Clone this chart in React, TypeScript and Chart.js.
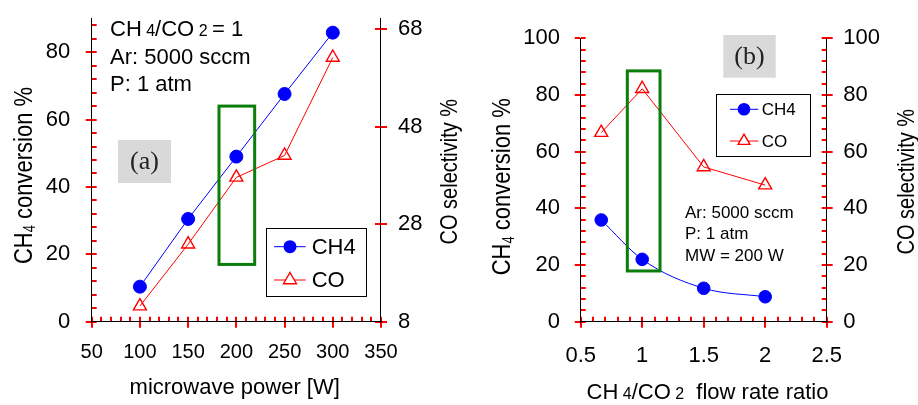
import React, { useEffect, useRef } from 'react';
import { Chart, registerables } from 'chart.js';

Chart.register(...registerables);

// ---------------- data ----------------
const powerW = [100, 150, 200, 250, 300];
const ch4ConversionA = [10.4, 30.5, 49.0, 67.6, 85.8];
const coSelectivityA = [11.2, 23.9, 37.6, 42.1, 62.2];

const flowRatio = [0.667, 1, 1.5, 2];
const ch4ConversionB = [35.9, 22.0, 11.8, 8.8];
const coSelectivityB = [66.7, 82.2, 54.6, 48.2];

const xTicksA = [50, 100, 150, 200, 250, 300, 350];
const yTicksA = [0, 20, 40, 60, 80];
const y2TicksA = [8, 28, 48, 68];
const xTicksB = [0.5, 1, 1.5, 2, 2.5];
const yTicksB = [0, 20, 40, 60, 80, 100];
const y2TicksB = [0, 20, 40, 60, 80, 100];

const highlightXA = [182, 219];
const highlightYA = [17, 64];
const highlightXB = [0.879, 1.145];
const highlightYB = [17.9, 88.5];

const seriesNames = ['CH4', 'CO'];

// ---------------- styling helpers ----------------
const SANS = "'Liberation Sans', Arial, sans-serif";
const SERIF = "'Liberation Serif', 'Times New Roman', serif";
const BLUE = '#0000ff';
const RED = '#ff0000';
const GREEN = '#0a7d0a';
const TICK_COLOR = '#ff0000';
const TICK_WIDTH = 2;

type Seg = [string, number, number?];

function richText(ctx: CanvasRenderingContext2D, segs: Seg[], x: number, y: number, align: 'left' | 'center' = 'left', rot = 0, sy = 1, family = SANS) {
  ctx.save();
  ctx.translate(x, y);
  if (rot) ctx.rotate(rot);
  if (sy !== 1) ctx.scale(1, sy);
  ctx.fillStyle = '#000';
  ctx.textAlign = 'left';
  ctx.textBaseline = 'alphabetic';
  const widths = segs.map(([t, s]) => {
    ctx.font = `${s}px ${family}`;
    return ctx.measureText(t).width;
  });
  const total = widths.reduce((a, b) => a + b, 0);
  let cx = align === 'center' ? -total / 2 : 0;
  segs.forEach(([t, s, dy], i) => {
    ctx.font = `${s}px ${family}`;
    ctx.fillText(t, cx, dy || 0);
    cx += widths[i];
  });
  ctx.restore();
}

function drawTriangle(ctx: CanvasRenderingContext2D, x: number, y: number, r: number) {
  const h = Math.sin(Math.PI / 3) * r;
  ctx.beginPath();
  ctx.moveTo(x, y - r);
  ctx.lineTo(x + h, y + r / 2);
  ctx.lineTo(x - h, y + r / 2);
  ctx.closePath();
}

type DecorCfg = {
  hx: number[];
  hy: number[];
  tag: { text: string; x0: number; y0: number; x1: number; y1: number; size: number };
  legend: { x0: number; y0: number; x1: number; y1: number; rows: number[]; lx0: number; lx1: number; mx: number; tx: number; size: number; cr: number; tr: number };
  texts: (ctx: CanvasRenderingContext2D) => void;
};

function makeDecor(cfg: DecorCfg) {
  return {
    id: 'decor',
    afterDatasetsDraw(chart: any) {
      const { ctx } = chart;
      const xs = chart.scales.x;
      const ys = chart.scales.y;
      const x0 = xs.getPixelForValue(cfg.hx[0]);
      const x1 = xs.getPixelForValue(cfg.hx[1]);
      const y0 = ys.getPixelForValue(cfg.hy[1]);
      const y1 = ys.getPixelForValue(cfg.hy[0]);
      ctx.save();
      ctx.strokeStyle = GREEN;
      ctx.lineWidth = 3;
      ctx.strokeRect(x0, y0, x1 - x0, y1 - y0);
      ctx.restore();
    },
    afterDraw(chart: any) {
      const { ctx } = chart;
      ctx.save();
      const lg = cfg.legend;
      ctx.strokeStyle = '#000';
      ctx.lineWidth = 1;
      ctx.strokeRect(Math.round(lg.x0) + 0.5, Math.round(lg.y0) + 0.5, Math.round(lg.x1 - lg.x0), Math.round(lg.y1 - lg.y0));
      chart.data.datasets.forEach((ds: any, i: number) => {
        const y = lg.rows[i];
        ctx.strokeStyle = ds.borderColor;
        ctx.lineWidth = ds.borderWidth;
        ctx.beginPath();
        ctx.moveTo(lg.lx0, y);
        ctx.lineTo(lg.lx1, y);
        ctx.stroke();
        if (ds.pointStyle === 'circle') {
          ctx.fillStyle = ds.backgroundColor;
          ctx.beginPath();
          ctx.arc(lg.mx, y, lg.cr, 0, Math.PI * 2);
          ctx.fill();
        } else {
          ctx.fillStyle = '#fff';
          ctx.lineWidth = ds.pointBorderWidth;
          drawTriangle(ctx, lg.mx, y, lg.tr);
          ctx.fill();
          ctx.stroke();
        }
        ctx.fillStyle = '#000';
        ctx.font = `${lg.size}px ${SANS}`;
        ctx.textAlign = 'left';
        ctx.textBaseline = 'middle';
        ctx.fillText(seriesNames[i], lg.tx, y + 1);
      });

      const tg = cfg.tag;
      ctx.fillStyle = '#d9d9d9';
      ctx.fillRect(tg.x0, tg.y0, tg.x1 - tg.x0, tg.y1 - tg.y0);
      ctx.fillStyle = '#222';
      ctx.font = `${tg.size}px ${SERIF}`;
      ctx.textAlign = 'center';
      ctx.textBaseline = 'middle';
      ctx.fillText(tg.text, (tg.x0 + tg.x1) / 2, (tg.y0 + tg.y1) / 2 + 1);
      ctx.restore();

      cfg.texts(ctx);
    },
  };
}

function fixedTicks(values: number[]) {
  return (s: any) => {
    s.ticks = values.map((v) => ({ value: v }));
  };
}

function stepValues(lo: number, hi: number, step: number) {
  const out: number[] = [];
  const n = Math.floor((hi - lo) / step + 1e-6);
  for (let i = 0; i <= n; i++) out.push(Math.round((lo + i * step) * 1000) / 1000);
  return out;
}

function fixSize(horiz: boolean, size: number) {
  return (s: any) => {
    if (horiz) s.height = size;
    else s.width = size;
    s.paddingTop = 0;
    s.paddingBottom = 0;
    s.paddingLeft = 0;
    s.paddingRight = 0;
  };
}

function axisOpts(o: { min: number; max: number; ticks: number[]; pos: string; size: number; pad: number; fit: number }) {
  const horiz = o.pos === 'bottom';
  return {
    type: 'linear',
    position: o.pos,
    weight: 1,
    min: o.min,
    max: o.max,
    afterBuildTicks: fixedTicks(o.ticks),
    afterFit: fixSize(horiz, o.fit),
    grid: { display: true, drawOnChartArea: false, drawTicks: true, tickLength: 6, color: TICK_COLOR, lineWidth: TICK_WIDTH },
    border: { display: true, color: '#000', width: 1 },
    title: { display: false },
    ticks: {
      padding: o.pad - 6,
      autoSkip: false,
      maxRotation: 0,
      color: '#000',
      font: { family: SANS, size: o.size },
      callback: (v: number) => String(v),
    },
  };
}

function innerTicks(o: { min: number; max: number; values: number[]; pos: string; len: number }) {
  const horiz = o.pos === 'bottom';
  return {
    type: 'linear',
    position: o.pos,
    weight: 0,
    min: o.min,
    max: o.max,
    afterBuildTicks: fixedTicks(o.values),
    afterFit: fixSize(horiz, 0),
    grid: { display: true, drawOnChartArea: false, drawTicks: true, tickLength: -o.len, color: TICK_COLOR, lineWidth: TICK_WIDTH },
    border: { display: false },
    title: { display: false },
    ticks: { display: false },
  };
}

const ch4Style = {
  borderColor: BLUE,
  backgroundColor: BLUE,
  borderWidth: 1,
  pointStyle: 'circle',
  pointRadius: 6.5,
  pointBorderWidth: 1,
  showLine: true,
};
const coStyle = {
  borderColor: RED,
  backgroundColor: 'rgba(255,255,255,0)',
  borderWidth: 1,
  pointStyle: 'triangle',
  pointRadius: 7.5,
  pointBorderWidth: 1.4,
  showLine: true,
};

export default function App() {
  const refA = useRef<HTMLCanvasElement>(null);
  const refB = useRef<HTMLCanvasElement>(null);

  useEffect(() => {
    document.body.style.margin = '0';
    const W = 918;

    const chartA = new Chart(refA.current as HTMLCanvasElement, {
      type: 'scatter',
      data: {
        datasets: [
          { label: seriesNames[0], data: powerW.map((x, i) => ({ x, y: ch4ConversionA[i] })), xAxisID: 'x', yAxisID: 'y', ...ch4Style } as any,
          { label: seriesNames[1], data: powerW.map((x, i) => ({ x, y: coSelectivityA[i] })), xAxisID: 'x', yAxisID: 'y2', ...coStyle } as any,
        ],
      },
      options: {
        responsive: false,
        animation: false,
        layout: { padding: { left: 11.7, right: W - 381 - 60, top: 18.5, bottom: 13.3 } },
        plugins: { legend: { display: false }, tooltip: { enabled: false } },
        scales: {
          x: axisOpts({ min: 50, max: 350, ticks: xTicksA, pos: 'bottom', size: 20, pad: 18.3, fit: 70 }),
          y: axisOpts({ min: 0, max: 90, ticks: yTicksA, pos: 'left', size: 22, pad: 21.5, fit: 80 }),
          y2: axisOpts({ min: 8, max: 70.2, ticks: y2TicksA, pos: 'right', size: 22, pad: 17, fit: 60 }),
          xm: innerTicks({ min: 50, max: 350, values: stepValues(50, 350, 10), pos: 'bottom', len: 5 }),
          ym: innerTicks({ min: 0, max: 90, values: stepValues(0, 90, 4), pos: 'left', len: 5 }),
          y2m: innerTicks({ min: 8, max: 70.2, values: y2TicksA, pos: 'right', len: 6 }),
        } as any,
      },
      plugins: [
        makeDecor({
          hx: highlightXA,
          hy: highlightYA,
          tag: { text: '(a)', x0: 118, y0: 140, x1: 171, y1: 183, size: 26 },
          legend: { x0: 265.7, y0: 228.3, x1: 365.7, y1: 296, rows: [246.7, 280], lx0: 274, lx1: 305.7, mx: 290, tx: 311.7, size: 22, cr: 6.5, tr: 7.5 },
          texts: (ctx) => {
            richText(ctx, [['CH', 22], [' 4', 16], ['/CO', 22], [' 2 ', 16], ['= 1', 22]], 110, 36);
            richText(ctx, [['Ar: 5000 sccm', 22]], 110, 64);
            richText(ctx, [['P: 1 atm', 22]], 110, 90.7);
            richText(ctx, [['microwave power [W]', 22]], 234.7, 394, 'center');
            richText(ctx, [['CH', 22], ['4', 13, 3], [' conversion %', 22]], 31.7, 175.5, 'center', -Math.PI / 2, 1.2);
            richText(ctx, [['CO selectivity %', 20]], 457.3, 171.7, 'center', -Math.PI / 2, 1.2);
          },
        }) as any,
      ],
    });

    const chartB = new Chart(refB.current as HTMLCanvasElement, {
      type: 'scatter',
      data: {
        datasets: [
          { label: seriesNames[0], data: flowRatio.map((x, i) => ({ x, y: ch4ConversionB[i] })), xAxisID: 'x', yAxisID: 'y', cubicInterpolationMode: 'monotone', ...ch4Style, pointRadius: 6.3 } as any,
          { label: seriesNames[1], data: flowRatio.map((x, i) => ({ x, y: coSelectivityB[i] })), xAxisID: 'x', yAxisID: 'y2', ...coStyle } as any,
        ],
      },
      options: {
        responsive: false,
        animation: false,
        layout: { padding: { left: 580.7 - 80, right: W - 826.7 - 60, top: 38.3, bottom: 13.3 } },
        plugins: { legend: { display: false }, tooltip: { enabled: false } },
        scales: {
          x: axisOpts({ min: 0.5, max: 2.5, ticks: xTicksB, pos: 'bottom', size: 22, pad: 21, fit: 70 }),
          y: axisOpts({ min: 0, max: 100, ticks: yTicksB, pos: 'left', size: 22, pad: 20.7, fit: 80 }),
          y2: axisOpts({ min: 0, max: 100, ticks: y2TicksB, pos: 'right', size: 22, pad: 16.6, fit: 60 }),
          xm: innerTicks({ min: 0.5, max: 2.5, values: stepValues(0.5, 2.5, 0.1), pos: 'bottom', len: 5 }),
          ym: innerTicks({ min: 0, max: 100, values: stepValues(0, 100, 4), pos: 'left', len: 5 }),
          y2m: innerTicks({ min: 0, max: 100, values: stepValues(0, 100, 4), pos: 'right', len: 5 }),
        } as any,
      },
      plugins: [
        makeDecor({
          hx: highlightXB,
          hy: highlightYB,
          tag: { text: '(b)', x0: 723.3, y0: 35, x1: 775.7, y1: 77.7, size: 26 },
          legend: { x0: 716.3, y0: 93.7, x1: 810.3, y1: 156, rows: [109.3, 141], lx0: 730, lx1: 758.3, mx: 744, tx: 761.7, size: 17, cr: 6.3, tr: 6.8 },
          texts: (ctx) => {
            richText(ctx, [['Ar: 5000 sccm', 17]], 685, 218.3);
            richText(ctx, [['P: 1 atm', 17]], 685, 239.3);
            richText(ctx, [['MW = 200 W', 17]], 685, 261);
            richText(ctx, [['CH', 22], [' 4', 16], ['/CO', 22], [' 2', 16], ['  flow rate ratio', 22]], 707.5, 399, 'center');
            richText(ctx, [['CH', 22], ['4', 13, 3], [' conversion %', 22]], 510, 186.7, 'center', -Math.PI / 2, 1.2);
            richText(ctx, [['CO selectivity %', 20]], 914, 181.7, 'center', -Math.PI / 2, 1.2);
          },
        }) as any,
      ],
    });

    return () => {
      chartA.destroy();
      chartB.destroy();
    };
  }, []);

  const cs: React.CSSProperties = { position: 'absolute', left: 0, top: 0, display: 'block' };
  return (
    <div style={{ position: 'relative', width: 918, height: 405, background: '#fff' }}>
      <canvas ref={refA} width={918} height={405} style={cs} />
      <canvas ref={refB} width={918} height={405} style={cs} />
    </div>
  );
}
